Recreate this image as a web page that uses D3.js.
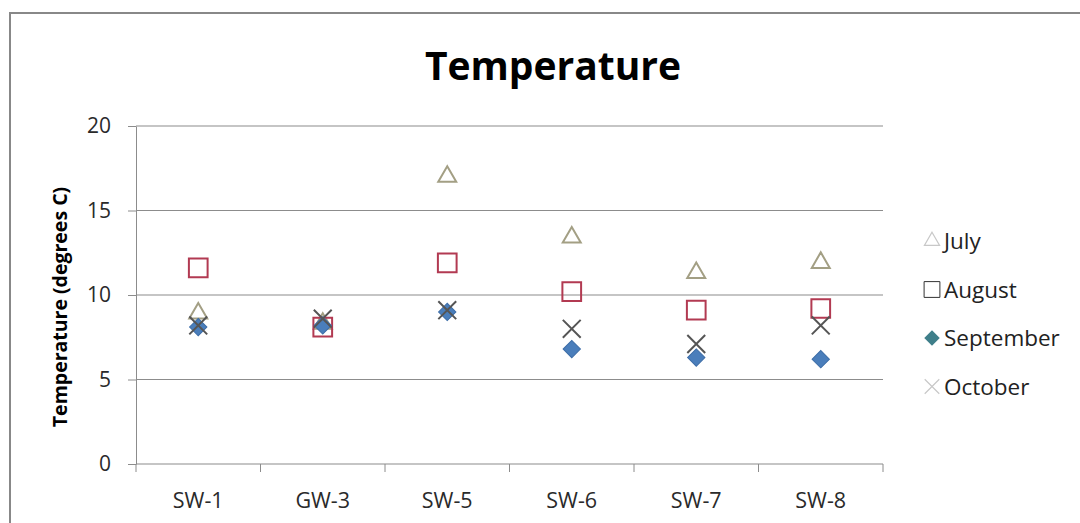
<!DOCTYPE html>
<html>
<head>
<meta charset="utf-8">
<script src="https://cdn.jsdelivr.net/npm/d3@7"></script>
<style>
  body { margin: 0; background: #fff; }
  svg text { font-family: "Open Sans", "Liberation Sans", sans-serif; }
</style>
</head>
<body>
<svg id="chart" width="1080" height="523"></svg>
<script>
// data
var sites = ["SW-1", "GW-3", "SW-5", "SW-6", "SW-7", "SW-8"];
var july = [9.0, 8.4, 17.1, 13.5, 11.4, 12.0];
var august = [11.6, 8.1, 11.9, 10.2, 9.1, 9.2];
var september = [8.1, 8.2, 9.0, 6.8, 6.3, 6.2];
var october = [8.2, 8.6, 9.1, 8.0, 7.1, 8.2];
var yTicks = [0, 5, 10, 15, 20];
var seriesNames = ["July", "August", "September", "October"];

var svg = d3.select("#chart");

var plotLeft = 136, plotRight = 883, plotTop = 126, plotBottom = 464;

var x = d3.scaleBand().domain(sites).range([plotLeft, plotRight]);
var y = d3.scaleLinear().domain([0, 20]).range([plotBottom, plotTop]);

// chart border
svg.append("rect")
    .attr("x", 10).attr("y", 13)
    .attr("width", 1085).attr("height", 540)
    .attr("fill", "none")
    .attr("stroke", "#888")
    .attr("stroke-width", 2);

// title
svg.append("text")
    .attr("x", 553).attr("y", 80)
    .attr("text-anchor", "middle")
    .style("font-size", "39px")
    .style("font-weight", "bold")
    .text("Temperature");

// gridlines
svg.append("g")
  .selectAll("line")
  .data(yTicks.filter(function(d) { return d > 0; }))
  .enter().append("line")
    .attr("x1", plotLeft).attr("x2", plotRight)
    .attr("y1", function(d) { return y(d); })
    .attr("y2", function(d) { return y(d); })
    .attr("stroke", "#8c8c8c")
    .attr("stroke-width", 1.2);

// y axis
var yAxis = d3.axisLeft(y).tickValues(yTicks).tickSize(8).tickSizeOuter(0);
var gy = svg.append("g")
    .attr("transform", "translate(" + plotLeft + ",0)")
    .call(yAxis);
gy.select(".domain").attr("stroke", "#8c8c8c");
gy.selectAll(".tick line").attr("stroke", "#8c8c8c");
gy.selectAll(".tick text")
    .attr("x", -25)
    .style("font-size", "21px")
    .attr("fill", "#2a2a2a");

// x axis with ticks at band edges
var gx = svg.append("g")
    .attr("transform", "translate(0," + plotBottom + ")");
gx.append("line")
    .attr("x1", plotLeft).attr("x2", plotRight)
    .attr("stroke", "#8c8c8c").attr("stroke-width", 1.2);
var edges = sites.map(function(s) { return x(s); }).concat([plotRight]);
gx.selectAll("line.edge")
  .data(edges)
  .enter().append("line")
    .attr("class", "edge")
    .attr("x1", function(d) { return d; }).attr("x2", function(d) { return d; })
    .attr("y1", 0).attr("y2", 8)
    .attr("stroke", "#8c8c8c");
gx.selectAll("text")
  .data(sites)
  .enter().append("text")
    .attr("x", function(d) { return x(d) + x.bandwidth() / 2; })
    .attr("y", 44)
    .attr("text-anchor", "middle")
    .style("font-size", "21.5px")
    .attr("fill", "#2a2a2a")
    .text(function(d) { return d; });

// y axis title
svg.append("text")
    .attr("transform", "translate(67," + 307 + ") rotate(-90)")
    .attr("text-anchor", "middle")
    .style("font-size", "19.5px")
    .style("font-weight", "bold")
    .text("Temperature (degrees C)");

// marker shapes
var styles = [
  { path: d3.symbol().type(d3.symbolTriangle).size(140)(), fill: "none", stroke: "#a39f84", width: 2, rot: 0 },
  { path: d3.symbol().type(d3.symbolSquare).size(350)(), fill: "none", stroke: "#b23a52", width: 2, rot: 0 },
  { path: d3.symbol().type(d3.symbolSquare).size(150)(), fill: "#4a7ebb", stroke: "#3e6ea8", width: 1, rot: 45 },
  { path: d3.symbol().type(d3.symbolTimes).size(210)(), fill: "none", stroke: "#555", width: 2, rot: 0 }
];
var allSeries = [july, august, september, october];

allSeries.forEach(function(vals, k) {
  var st = styles[k];
  svg.append("g")
    .selectAll("path")
    .data(vals)
    .enter().append("path")
      .attr("d", st.path)
      .attr("transform", function(d, i) {
        var cx = x(sites[i]) + x.bandwidth() / 2;
        var cy = y(d) + (k === 0 ? 1.5 : 0);
        return "translate(" + cx + "," + cy + ") rotate(" + st.rot + ")";
      })
      .attr("fill", st.fill)
      .attr("stroke", st.stroke)
      .attr("stroke-width", st.width);
});

// legend
var legendStyles = [
  { path: d3.symbol().type(d3.symbolTriangle).size(100)(), fill: "none", stroke: "#c8c8c8", width: 1.2, rot: 0 },
  { path: d3.symbol().type(d3.symbolSquare).size(250)(), fill: "none", stroke: "#333", width: 1, rot: 0 },
  { path: d3.symbol().type(d3.symbolSquare).size(100)(), fill: "#3f7f8a", stroke: "#3f7f8a", width: 1, rot: 45 },
  { path: d3.symbol().type(d3.symbolTimes).size(140)(), fill: "none", stroke: "#c8c8c8", width: 1.2, rot: 0 }
];
var legend = svg.append("g");
var legendItem = legend.selectAll("g")
  .data(seriesNames)
  .enter().append("g")
    .attr("transform", function(d, i) { return "translate(932," + (241 + i * 48.5) + ")"; });
legendItem.append("path")
    .attr("d", function(d, i) { return legendStyles[i].path; })
    .attr("transform", function(d, i) { return "rotate(" + legendStyles[i].rot + ")"; })
    .attr("fill", function(d, i) { return legendStyles[i].fill; })
    .attr("stroke", function(d, i) { return legendStyles[i].stroke; })
    .attr("stroke-width", function(d, i) { return legendStyles[i].width; });
legendItem.append("text")
    .attr("x", 12)
    .attr("y", 8)
    .style("font-size", "22.5px")
    .attr("fill", "#222")
    .text(function(d) { return d; });
</script>
</body>
</html>
